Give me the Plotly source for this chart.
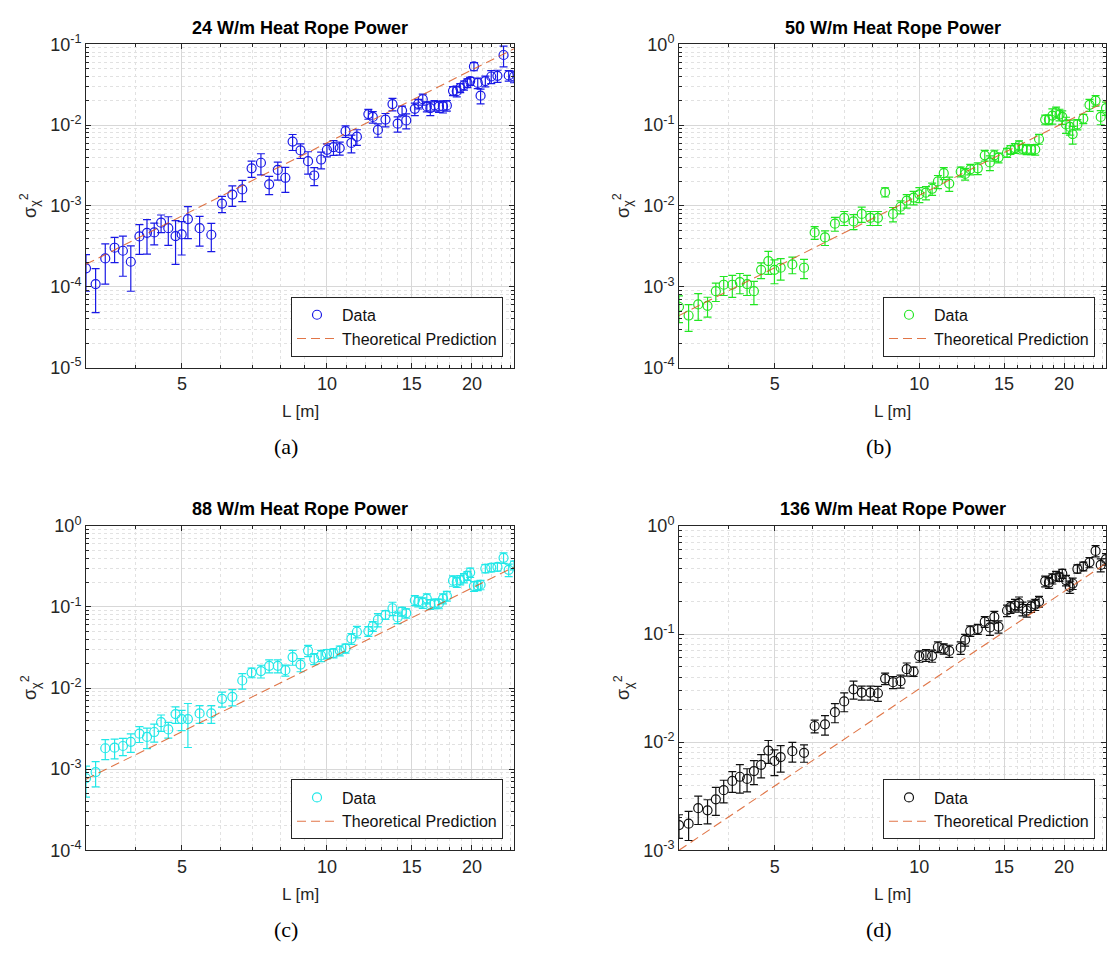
import math
import plotly.graph_objects as go

# Separation distance L [m], shared by all four heat-rope settings
L = [3.162, 3.311, 3.467, 3.625, 3.772, 3.917, 4.082, 4.232, 4.381, 4.527, 4.686, 4.851, 4.995, 5.146,
     5.442, 5.755, 6.056, 6.363, 6.673, 6.977, 7.295, 7.588, 7.907, 8.199, 8.487, 8.814, 9.138, 9.412,
     9.727, 10.00, 10.32, 10.63, 10.93, 11.24, 11.54, 12.19, 12.45, 12.76, 13.23, 13.68, 14.02, 14.32,
     14.61, 15.22, 15.47, 15.81, 16.12, 16.39, 16.72, 17.08, 17.42, 17.74, 18.27, 18.60, 18.91, 19.25,
     19.57, 19.83, 20.19, 20.56, 20.84, 21.32, 21.93, 22.59, 23.26, 23.84, 24.45]

# 24 W/m
var_24 = [1.69e-4, 1.08e-4, 2.24e-4, 3.04e-4, 2.79e-4, 2.04e-4, 4.20e-4, 4.65e-4, 4.70e-4, 6.20e-4,
          5.30e-4, 4.24e-4, 4.44e-4, 6.87e-4, 5.30e-4, 4.40e-4, 1.07e-3, 1.38e-3, 1.60e-3, 2.92e-3,
          3.42e-3, 1.85e-3, 2.79e-3, 2.23e-3, 6.25e-3, 4.86e-3, 3.58e-3, 2.38e-3, 3.75e-3, 4.95e-3,
          5.33e-3, 5.19e-3, 8.40e-3, 6.02e-3, 7.18e-3, 1.37e-2, 1.26e-2, 8.72e-3, 1.17e-2, 1.82e-2,
          1.04e-2, 1.51e-2, 1.14e-2, 1.59e-2, 1.83e-2, 2.09e-2, 1.70e-2, 1.62e-2, 1.75e-2, 1.70e-2,
          1.70e-2, 1.75e-2, 2.65e-2, 2.63e-2, 2.89e-2, 3.11e-2, 3.32e-2, 3.50e-2, 5.32e-2, 3.32e-2,
          2.31e-2, 3.50e-2, 3.99e-2, 4.07e-2, 7.36e-2, 4.11e-2, 3.99e-2]
err_24 = [0.81e-4, 0.60e-4, 1.16e-4, 1.05e-4, 1.44e-4, 1.16e-4, 1.68e-4, 2.12e-4, 1.41e-4, 1.52e-4,
          2.05e-4, 2.35e-4, 1.97e-4, 2.93e-4, 2.12e-4, 1.68e-4, 2.46e-4, 3.9e-4, 4.7e-4, 6.7e-4,
          1.0e-3, 4.7e-4, 7.0e-4, 7.6e-4, 1.4e-3, 1.0e-3, 1.1e-3, 6.0e-4, 8.8e-4, 9.0e-4,
          1.1e-3, 9.5e-4, 1.35e-3, 1.5e-3, 1.57e-3, 1.9e-3, 2.05e-3, 1.65e-3, 2.2e-3, 3.2e-3,
          2.2e-3, 2.1e-3, 2.4e-3, 2.8e-3, 2.5e-3, 3.2e-3, 2.4e-3, 3.1e-3, 2.65e-3, 2.6e-3,
          2.9e-3, 2.65e-3, 3.4e-3, 4.0e-3, 3.7e-3, 4.0e-3, 4.1e-3, 4.0e-3, 6.2e-3, 4.9e-3,
          4.8e-3, 5.3e-3, 7.3e-3, 7.0e-3, 2.1e-2, 6.2e-3, 6.5e-3]

# 50 W/m
var_50 = [5.66e-4, 4.41e-4, 6.05e-4, 5.82e-4, 8.83e-4, 1.06e-3, 1.06e-3, 1.14e-3, 1.08e-3, 8.83e-4,
          1.62e-3, 2.08e-3, 1.62e-3, 1.72e-3, 1.89e-3, 1.72e-3, 4.70e-3, 4.08e-3, 6.03e-3, 7.13e-3,
          6.44e-3, 7.96e-3, 7.13e-3, 7.13e-3, 1.48e-2, 7.96e-3, 9.77e-3, 1.16e-2, 1.27e-2, 1.39e-2,
          1.46e-2, 1.63e-2, 2.01e-2, 2.54e-2, 1.89e-2, 2.66e-2, 2.49e-2, 2.84e-2, 2.92e-2, 4.23e-2,
          3.45e-2, 4.23e-2, 3.96e-2, 4.56e-2, 4.95e-2, 5.19e-2, 5.59e-2, 5.09e-2, 5.00e-2, 5.00e-2,
          5.00e-2, 6.73e-2, 1.17e-1, 1.17e-1, 1.31e-1, 1.45e-1, 1.35e-1, 1.26e-1, 1.02e-1, 9.50e-2,
          7.73e-2, 1.02e-1, 1.20e-1, 1.78e-1, 2.01e-1, 1.26e-1, 1.62e-1]
err_50 = [2.06e-4, 1.6e-4, 2.2e-4, 1.6e-4, 2.26e-4, 2.8e-4, 3.2e-4, 3.2e-4, 3.0e-4, 2.8e-4,
          3.6e-4, 6.6e-4, 5.3e-4, 5.1e-4, 4.4e-4, 4.6e-4, 8.5e-4, 8.4e-4, 1.17e-3, 1.4e-3,
          1.36e-3, 1.7e-3, 1.4e-3, 1.4e-3, 1.9e-3, 1.6e-3, 1.8e-3, 2.2e-3, 2.4e-3, 2.9e-3,
          2.7e-3, 2.8e-3, 3.7e-3, 4.3e-3, 3.8e-3, 3.7e-3, 4.0e-3, 4.2e-3, 4.8e-3, 6.4e-3,
          7.2e-3, 6.5e-3, 5.5e-3, 5.8e-3, 6.2e-3, 7.3e-3, 7.8e-3, 7.0e-3, 7.0e-3, 7.0e-3,
          7.5e-3, 9.4e-3, 1.6e-2, 1.6e-2, 2.8e-2, 2.2e-2, 2.2e-2, 2.4e-2, 2.3e-2, 2.0e-2,
          1.9e-2, 1.5e-2, 1.6e-2, 3.0e-2, 3.0e-2, 2.5e-2, 3.0e-2]

# 88 W/m
var_88 = [7.72e-4, 9.2e-4, 1.81e-3, 1.84e-3, 1.93e-3, 2.17e-3, 2.74e-3, 2.50e-3, 2.87e-3, 3.79e-3,
          3.09e-3, 4.77e-3, 4.15e-3, 4.15e-3, 4.86e-3, 4.86e-3, 7.37e-3, 7.79e-3, 1.24e-2, 1.55e-2,
          1.62e-2, 1.88e-2, 1.88e-2, 1.66e-2, 2.41e-2, 1.95e-2, 2.90e-2, 2.30e-2, 2.52e-2, 2.64e-2,
          2.70e-2, 2.90e-2, 3.09e-2, 4.08e-2, 4.95e-2, 5.04e-2, 5.80e-2, 6.97e-2, 8.01e-2, 9.64e-2,
          7.44e-2, 8.79e-2, 8.39e-2, 1.21e-1, 1.16e-1, 1.13e-1, 1.27e-1, 1.08e-1, 1.10e-1, 1.10e-1,
          1.27e-1, 1.37e-1, 2.11e-1, 2.02e-1, 2.15e-1, 2.28e-1, 2.43e-1, 2.66e-1, 1.81e-1, 1.84e-1,
          1.88e-1, 2.98e-1, 3.06e-1, 3.12e-1, 4.04e-1, 2.87e-1, 3.27e-1]
err_88 = [3.2e-4, 3.15e-4, 5.0e-4, 5.0e-4, 4.6e-4, 5.6e-4, 6.1e-4, 7.1e-4, 7.2e-4, 8.6e-4,
          6.8e-4, 1.1e-3, 1.17e-3, 2.3e-3, 1.2e-3, 1.2e-3, 1.55e-3, 1.75e-3, 2.7e-3, 2.1e-3,
          2.9e-3, 3.4e-3, 3.4e-3, 2.6e-3, 5.0e-3, 3.6e-3, 4.6e-3, 3.6e-3, 4.0e-3, 3.5e-3,
          3.5e-3, 4.0e-3, 4.0e-3, 6.2e-3, 8.0e-3, 7.0e-3, 8.0e-3, 1.3e-2, 1.0e-2, 1.8e-2,
          1.2e-2, 1.1e-2, 1.1e-2, 1.7e-2, 1.6e-2, 1.7e-2, 1.8e-2, 1.5e-2, 1.5e-2, 1.5e-2,
          1.8e-2, 1.9e-2, 3.1e-2, 2.8e-2, 2.8e-2, 3.0e-2, 3.0e-2, 3.5e-2, 2.5e-2, 2.5e-2,
          2.5e-2, 3.5e-2, 3.5e-2, 3.5e-2, 6.0e-2, 5.0e-2, 4.0e-2]

# 136 W/m
var_136 = [1.71e-3, 1.76e-3, 2.45e-3, 2.34e-3, 2.96e-3, 3.59e-3, 4.38e-3, 4.78e-3, 4.57e-3, 5.40e-3,
           6.16e-3, 8.35e-3, 6.69e-3, 7.27e-3, 8.24e-3, 7.96e-3, 1.41e-2, 1.46e-2, 1.89e-2, 2.38e-2,
           3.08e-2, 2.87e-2, 2.87e-2, 2.83e-2, 3.87e-2, 3.58e-2, 3.66e-2, 4.73e-2, 4.50e-2, 6.24e-2,
           6.37e-2, 6.28e-2, 7.58e-2, 7.32e-2, 6.97e-2, 7.47e-2, 8.83e-2, 1.07e-1, 1.11e-1, 1.30e-1,
           1.15e-1, 1.44e-1, 1.17e-1, 1.65e-1, 1.77e-1, 1.84e-1, 1.93e-1, 1.72e-1, 1.65e-1, 1.80e-1,
           1.87e-1, 2.00e-1, 3.08e-1, 2.99e-1, 3.25e-1, 3.44e-1, 3.36e-1, 3.61e-1, 3.14e-1, 2.73e-1,
           2.93e-1, 4.00e-1, 4.23e-1, 4.60e-1, 5.86e-1, 4.35e-1, 4.93e-1]
err_136 = [4.2e-4, 5.3e-4, 7.2e-4, 5.9e-4, 8.6e-4, 8.5e-4, 9.5e-4, 1.4e-3, 1.1e-3, 1.35e-3,
           1.5e-3, 2.0e-3, 1.8e-3, 2.0e-3, 1.7e-3, 1.45e-3, 1.9e-3, 3.0e-3, 3.8e-3, 4.7e-3,
           5.8e-3, 4.2e-3, 4.2e-3, 4.5e-3, 4.7e-3, 4.5e-3, 5.0e-3, 6.6e-3, 4.5e-3, 7.6e-3,
           8.0e-3, 8.0e-3, 8.6e-3, 8.0e-3, 9.0e-3, 1.0e-2, 1.1e-2, 1.2e-2, 1.2e-2, 1.5e-2,
           1.8e-2, 1.8e-2, 1.5e-2, 2.0e-2, 2.2e-2, 2.5e-2, 2.7e-2, 2.5e-2, 2.2e-2, 2.2e-2,
           2.2e-2, 2.3e-2, 3.5e-2, 3.5e-2, 3.5e-2, 3.5e-2, 3.0e-2, 3.5e-2, 3.5e-2, 3.5e-2,
           3.5e-2, 3.5e-2, 4.0e-2, 5.0e-2, 7.0e-2, 6.0e-2, 6.0e-2]

# Theoretical prediction (straight line in log-log), end points
theory_L = [3.162, 24.45]
theory_24 = [1.9e-4, 8.8e-2]
theory_50 = [4.4e-4, 1.95e-1]
theory_88 = [7.5e-4, 3.1e-1]
theory_136 = [1.0e-3, 4.5e-1]

titles = ["24 W/m Heat Rope Power", "50 W/m Heat Rope Power",
          "88 W/m Heat Rope Power", "136 W/m Heat Rope Power"]
captions = ["(a)", "(b)", "(c)", "(d)"]
x_ticks = [5, 10, 15, 20]
y_decades = [(-5, -1), (-4, 0), (-4, 0), (-3, 0)]

W, H = 1108, 955
FONT = "Liberation Sans, Arial, sans-serif"
AX_COLOR = "#262626"

# panel rectangles in pixels: left, right, top, bottom
boxes = [(86, 514, 33, 364), (679, 1106, 33, 364),
         (86, 514, 526, 858), (679, 1106, 526, 858)]
colors = ["#1a1ae6", "#22e622", "#22e8e8", "#111111"]
series = [(var_24, err_24, theory_24), (var_50, err_50, theory_50),
          (var_88, err_88, theory_88), (var_136, err_136, theory_136)]

fig = go.Figure()
layout = dict(width=W, height=H, margin=dict(l=0, r=0, t=0, b=0),
              paper_bgcolor="white", plot_bgcolor="white", showlegend=True)
annotations = []

x_minor = [v for v in range(4, 25) if v not in x_ticks]


def note(text, px, py, size, family=FONT, color=AX_COLOR, angle=0):
    return dict(text=text, x=px / W, y=1 - py / H, xref="paper", yref="paper",
                xanchor="center", yanchor="middle", showarrow=False, textangle=angle,
                font=dict(family=family, size=size, color=color))


for i in range(4):
    sfx = "" if i == 0 else str(i + 1)
    left, right, top, bottom = boxes[i]
    vals, errs, theo = series[i]
    c = colors[i]
    lg = "legend" + sfx

    fig.add_trace(go.Scatter(
        x=L, y=vals, mode="markers", name="Data",
        marker=dict(symbol="circle-open", size=9, color=c, line=dict(width=1.2, color=c)),
        error_y=dict(type="data", array=errs, visible=True, color=c, thickness=1.2, width=4),
        xaxis="x" + sfx, yaxis="y" + sfx, legend=lg))
    fig.add_trace(go.Scatter(
        x=theory_L, y=theo, mode="lines", name="Theoretical Prediction",
        line=dict(color="#D95319", width=1.1, dash="9px,5px"), opacity=0.8,
        xaxis="x" + sfx, yaxis="y" + sfx, legend=lg))

    lo, hi = y_decades[i]
    y_minor = [m * 10 ** k for k in range(lo, hi) for m in range(2, 10)]
    common = dict(
        type="log", showline=True, linecolor=AX_COLOR, linewidth=1, mirror="allticks",
        ticks="inside", ticklen=5, tickcolor=AX_COLOR, showgrid=True,
        gridcolor="#d8d8d8", gridwidth=1, zeroline=False,
        tickfont=dict(family=FONT, size=18, color=AX_COLOR),
    )
    minor = dict(tickmode="array", ticks="inside", ticklen=3, tickcolor=AX_COLOR,
                 showgrid=True, gridcolor="#e2e2e2", griddash="dot", gridwidth=1)
    layout["xaxis" + sfx] = dict(
        common, domain=[left / W, right / W], anchor="y" + sfx,
        range=[math.log10(L[0]), math.log10(L[-1])],
        tickmode="array", tickvals=x_ticks, ticktext=[str(t) for t in x_ticks],
        minor=dict(minor, tickvals=x_minor),
    )
    layout["yaxis" + sfx] = dict(
        common, domain=[1 - bottom / H, 1 - top / H], anchor="x" + sfx,
        range=[lo, hi], tickmode="array",
        tickvals=[10 ** k for k in range(lo, hi + 1)],
        ticktext=["10<sup>%d</sup>" % k for k in range(lo, hi + 1)],
        minor=dict(minor, tickvals=y_minor),
    )
    layout[lg] = dict(
        x=(right - 11) / W, y=1 - (bottom - 11) / H, xanchor="right", yanchor="bottom",
        bgcolor="white", bordercolor=AX_COLOR, borderwidth=1,
        font=dict(family=FONT, size=16, color="#111111"), itemwidth=40,
        tracegroupgap=0,
    )

    cx = (left + right) / 2
    annotations.append(note("<b>%s</b>" % titles[i], cx, top - 17, 18, color="black"))
    annotations.append(note("L [m]", cx, bottom + 45, 17))
    annotations.append(note("σ<sub>χ</sub><sup>2</sup>", left - 56, (top + bottom) / 2, 18, angle=-90))
    annotations.append(note(captions[i], cx - 14, bottom + 81, 22,
                            family="Liberation Serif, Times New Roman, serif", color="black"))

layout["annotations"] = annotations
fig.update_layout(**layout)
fig.write_html("out.html")
